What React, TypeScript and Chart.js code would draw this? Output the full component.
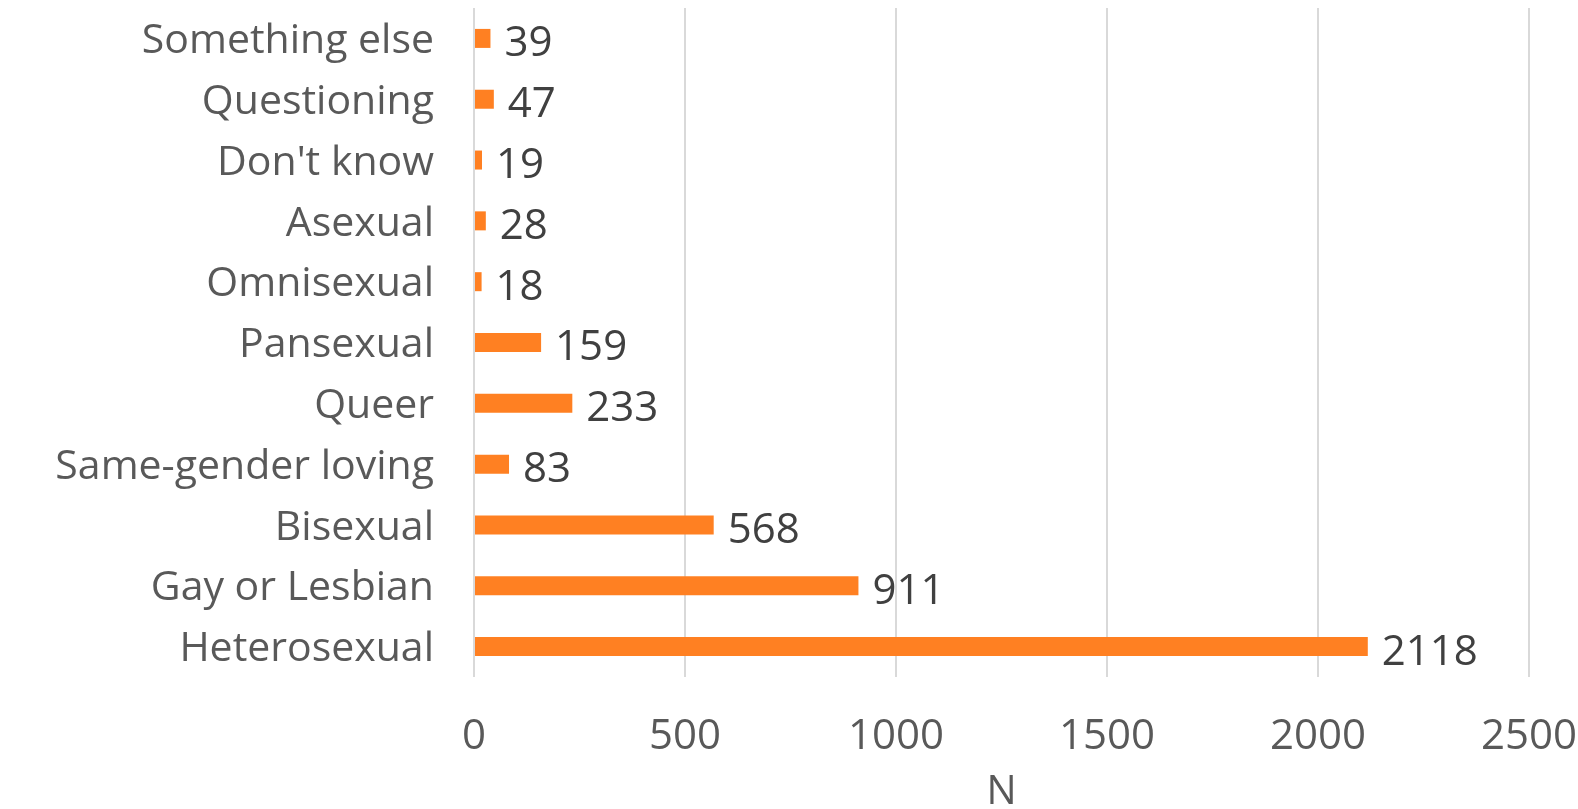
import React, { useEffect, useRef } from "react";
import { Chart, registerables } from "chart.js";

Chart.register(...registerables);

const categories = [
  "Something else",
  "Questioning",
  "Don't know",
  "Asexual",
  "Omnisexual",
  "Pansexual",
  "Queer",
  "Same-gender loving",
  "Bisexual",
  "Gay or Lesbian",
  "Heterosexual",
];
const counts = [39, 47, 19, 28, 18, 159, 233, 83, 568, 911, 2118];
const xTickMin = 0;
const xTickMax = 2500;
const xTickStep = 500;
const xTitle = "N";

const FONT = "'Open Sans', 'DejaVu Sans', sans-serif";

const valueLabels = {
  id: "valueLabels",
  afterDatasetsDraw(chart: any) {
    const ctx = chart.ctx;
    const meta = chart.getDatasetMeta(0);
    ctx.save();
    ctx.font = `42px ${FONT}`;
    ctx.fillStyle = "#404040";
    ctx.textAlign = "left";
    ctx.textBaseline = "middle";
    meta.data.forEach((bar: any, i: number) => {
      const v = chart.data.datasets[0].data[i];
      ctx.fillText(String(v), bar.x + 14, bar.y + 6);
    });
    ctx.restore();
  },
};

const zeroPadding = (s: any) => {
  s.paddingTop = 0;
  s.paddingBottom = 0;
  s.paddingLeft = 0;
  s.paddingRight = 0;
};

export default function App() {
  const ref = useRef<HTMLCanvasElement | null>(null);
  useEffect(() => {
    if (!ref.current) return;
    const chart = new Chart(ref.current, {
      type: "bar",
      data: {
        labels: categories,
        datasets: [
          {
            data: counts,
            backgroundColor: "#FF8022",
            borderWidth: 0,
            barPercentage: 0.3125,
            categoryPercentage: 1,
          },
        ],
      },
      options: {
        indexAxis: "y",
        animation: false,
        responsive: false,
        maintainAspectRatio: false,
        layout: { padding: { top: 8, right: 49, bottom: 0, left: 0 } },
        plugins: {
          legend: { display: false },
          tooltip: { enabled: false },
        },
        scales: {
          x: {
            min: xTickMin,
            max: xTickMax,
            ticks: {
              stepSize: xTickStep,
              color: "#595959",
              font: { family: FONT, size: 42 },
              padding: 35,
              maxRotation: 0,
              callback: (v: any) => String(v),
            },
            grid: { color: "#D9D9D9", lineWidth: 2, drawTicks: false },
            border: { display: false },
            title: {
              display: true,
              text: xTitle,
              color: "#595959",
              font: { family: FONT, size: 40, lineHeight: 0.8 },
              padding: { top: 0, bottom: 0 },
            },
            afterFit: (s: any) => {
              s.height = 132;
              zeroPadding(s);
            },
          },
          y: {
            ticks: {
              color: "#595959",
              font: { family: FONT, size: 41 },
              padding: 32,
              labelOffset: 3,
            },
            grid: { display: false },
            border: { display: false },
            afterFit: (s: any) => {
              s.width = 474;
              zeroPadding(s);
            },
          },
        },
      },
      plugins: [valueLabels],
    });
    return () => chart.destroy();
  }, []);
  return (
    <div style={{ position: "fixed", left: 0, top: 0, width: 1578, height: 809, background: "#fff" }}>
      <canvas ref={ref} width={1578} height={809} />
    </div>
  );
}
